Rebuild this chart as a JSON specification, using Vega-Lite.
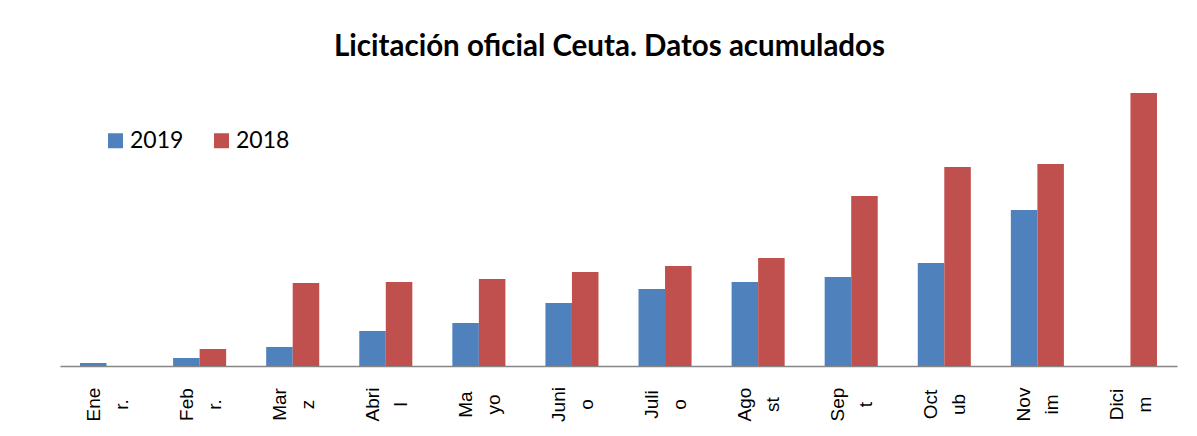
{
  "$schema": "https://vega.github.io/schema/vega-lite/v6.json",
  "autosize": "none",
  "width": 1117,
  "height": 300,
  "padding": {"left": 60, "top": 66, "right": 20, "bottom": 70},
  "background": "white",
  "title": {
    "text": "Licitación oficial Ceuta. Datos acumulados",
    "font": "Lato",
    "fontSize": 29.5,
    "fontWeight": "bold",
    "color": "#000000",
    "anchor": "middle",
    "baseline": "alphabetic",
    "offset": 4,
    "dx": -9,
    "dy": 23
  },
  "data": {
    "values": [
      {"month": "Ene r.", "year": "2019", "value": 3},
      {"month": "Ene r.", "year": "2018", "value": 0},
      {"month": "Feb r.", "year": "2019", "value": 8},
      {"month": "Feb r.", "year": "2018", "value": 17},
      {"month": "Mar z", "year": "2019", "value": 19},
      {"month": "Mar z", "year": "2018", "value": 83},
      {"month": "Abri l", "year": "2019", "value": 35},
      {"month": "Abri l", "year": "2018", "value": 84},
      {"month": "Ma yo", "year": "2019", "value": 43},
      {"month": "Ma yo", "year": "2018", "value": 87},
      {"month": "Juni o", "year": "2019", "value": 63},
      {"month": "Juni o", "year": "2018", "value": 94},
      {"month": "Juli o", "year": "2019", "value": 77},
      {"month": "Juli o", "year": "2018", "value": 100},
      {"month": "Ago st", "year": "2019", "value": 84},
      {"month": "Ago st", "year": "2018", "value": 108},
      {"month": "Sep t", "year": "2019", "value": 89},
      {"month": "Sep t", "year": "2018", "value": 170},
      {"month": "Oct ub", "year": "2019", "value": 103},
      {"month": "Oct ub", "year": "2018", "value": 199},
      {"month": "Nov im", "year": "2019", "value": 156},
      {"month": "Nov im", "year": "2018", "value": 202},
      {"month": "Dici m", "year": "2018", "value": 273}
    ]
  },
  "mark": {"type": "bar"},
  "encoding": {
    "x": {
      "field": "month",
      "type": "nominal",
      "sort": null,
      "scale": {"paddingInner": 0.43, "paddingOuter": 0.215},
      "axis": {
        "title": null,
        "ticks": false,
        "domainColor": "#868686",
        "domainWidth": 1.5,
        "labelAngle": -90,
        "labelAlign": "center",
        "labelBaseline": "middle",
        "labelPadding": 38,
        "labelOffset": -13,
        "labelFont": "Liberation Sans",
        "labelFontSize": 19,
        "labelColor": "#000000",
        "labelLineHeight": 28,
        "labelExpr": "split(datum.label, ' ')"
      }
    },
    "xOffset": {
      "field": "year",
      "type": "nominal",
      "sort": ["2019", "2018"]
    },
    "y": {
      "field": "value",
      "type": "quantitative",
      "scale": {"domain": [0, 300]},
      "axis": null
    },
    "color": {
      "field": "year",
      "type": "nominal",
      "sort": ["2019", "2018"],
      "scale": {"domain": ["2019", "2018"], "range": ["#4F81BD", "#C0504D"]},
      "legend": {
        "title": null,
        "orient": "none",
        "direction": "horizontal",
        "legendX": 44,
        "legendY": 63,
        "padding": 0,
        "symbolType": "square",
        "symbolSize": 225,
        "symbolStrokeWidth": 0,
        "labelFont": "Lato",
        "labelFontSize": 23,
        "labelColor": "#000000",
        "labelOffset": 3,
        "columnPadding": 26
      }
    }
  },
  "config": {
    "view": {"stroke": null}
  }
}
